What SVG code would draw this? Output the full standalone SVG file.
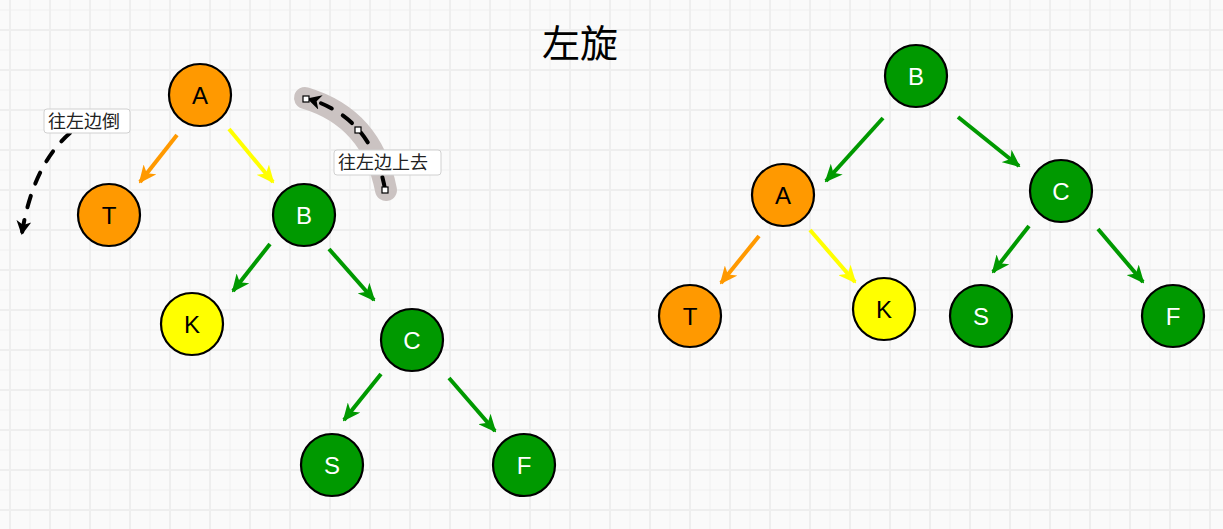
<svg xmlns="http://www.w3.org/2000/svg" width="1223" height="529" viewBox="0 0 1223 529">
<defs>
<pattern id="grid" patternUnits="userSpaceOnUse" x="0" y="0" width="40" height="40">
<rect width="40" height="40" fill="#fafafa"/>
<path d="M30,0V40M0,10H40" stroke="#f0f0f0" stroke-width="1" fill="none"/>
<path d="M10,0V40M0,30H40" stroke="#eeeeee" stroke-width="2" fill="none"/>
</pattern>
<marker id="mG" markerUnits="userSpaceOnUse" markerWidth="18" markerHeight="16" refX="16" refY="8" orient="auto"><path d="M0,0 L18,8 L0,16 L5,8 Z" fill="#009900"/></marker>
<marker id="mO" markerUnits="userSpaceOnUse" markerWidth="18" markerHeight="16" refX="16" refY="8" orient="auto"><path d="M0,0 L18,8 L0,16 L5,8 Z" fill="#ff9900"/></marker>
<marker id="mY" markerUnits="userSpaceOnUse" markerWidth="18" markerHeight="16" refX="16" refY="8" orient="auto"><path d="M0,0 L18,8 L0,16 L5,8 Z" fill="#ffff00"/></marker>
<marker id="mK" markerUnits="userSpaceOnUse" markerWidth="15" markerHeight="15" refX="12" refY="7.5" orient="auto"><path d="M0,0 L14,7.5 L0,15 L4,7.5 Z" fill="#000"/></marker>
</defs>
<style>
.n circle{stroke:#000;stroke-width:2.2}
.g circle{fill:#009900}
.o circle{fill:#ff9900}
.y circle{fill:#ffff00}
.n text{font-family:"Liberation Sans","DejaVu Sans",sans-serif;font-size:24px;text-anchor:middle;dominant-baseline:central}
.g text{fill:#fff}
.o text,.y text{fill:#000}
.e{stroke-width:4;fill:none}
.eg{stroke:#009900;marker-end:url(#mG)}
.eo{stroke:#ff9900;marker-end:url(#mO)}
.ey{stroke:#ffff00;marker-end:url(#mY)}
.lbl rect{fill:#fff;stroke:#d0d0d0;stroke-width:1}
.lbl text{font-family:"Liberation Serif","Noto Sans CJK SC",serif;font-size:18px;fill:#222}
.dash{stroke:#000;stroke-width:4;fill:none;stroke-dasharray:12 13;stroke-linecap:round;marker-end:url(#mK)}
.hd{fill:#fff;stroke:#000;stroke-width:1.2}
</style>
<rect width="1223" height="529" fill="url(#grid)"/>
<text x="580" y="57" font-family="Liberation Serif,'Noto Sans CJK SC',serif" font-size="38" text-anchor="middle" fill="#000">左旋</text>

<g id="annotations">
<path d="M386,190 Q372,118 305,98" stroke="#cbc3c2" stroke-width="22" stroke-linecap="round" fill="none"/>
<path class="dash" d="M385,189 Q372,118 309,99"/>
<rect class="hd" x="303" y="96" width="6" height="6"/>
<rect class="hd" x="355" y="127" width="6" height="6"/>
<rect class="hd" x="382" y="187" width="6" height="6"/>
<path class="dash" d="M70,133 Q33,165 22,233"/>
</g>

<g id="label-fall" class="lbl"><rect x="44" y="109" width="86" height="24" rx="3"/><text x="48" y="128">往左边倒</text></g>
<g id="label-up" class="lbl"><rect x="334" y="150" width="107" height="25" rx="3"/><text x="338" y="169">往左边上去</text></g>

<g id="connectors">
<line class="e eo" x1="177" y1="135" x2="140" y2="182"/>
<line class="e ey" x1="229" y1="129" x2="273" y2="182"/>
<line class="e eg" x1="270" y1="244" x2="233" y2="291"/>
<line class="e eg" x1="329" y1="249" x2="374" y2="300"/>
<line class="e eg" x1="381" y1="374" x2="344" y2="420"/>
<line class="e eg" x1="449" y1="378" x2="495" y2="431"/>
<line class="e eg" x1="883" y1="118" x2="826" y2="181"/>
<line class="e eg" x1="958" y1="117" x2="1019" y2="166"/>
<line class="e eo" x1="759" y1="236" x2="721" y2="283"/>
<line class="e ey" x1="810" y1="230" x2="855" y2="282"/>
<line class="e eg" x1="1029" y1="226" x2="993" y2="272"/>
<line class="e eg" x1="1098" y1="229" x2="1143" y2="282"/>
</g>

<g id="L-A" class="n o"><circle cx="200" cy="95" r="31"/><text x="200" y="95">A</text></g>
<g id="L-T" class="n o"><circle cx="109" cy="215" r="31"/><text x="109" y="215">T</text></g>
<g id="L-B" class="n g"><circle cx="304" cy="215" r="31"/><text x="304" y="215">B</text></g>
<g id="L-K" class="n y"><circle cx="192" cy="324" r="31"/><text x="192" y="324">K</text></g>
<g id="L-C" class="n g"><circle cx="412" cy="340" r="31"/><text x="412" y="340">C</text></g>
<g id="L-S" class="n g"><circle cx="332" cy="465" r="31"/><text x="332" y="465">S</text></g>
<g id="L-F" class="n g"><circle cx="524" cy="465" r="31"/><text x="524" y="465">F</text></g>

<g id="R-B" class="n g"><circle cx="916" cy="76" r="31"/><text x="916" y="76">B</text></g>
<g id="R-A" class="n o"><circle cx="783" cy="195" r="31"/><text x="783" y="195">A</text></g>
<g id="R-C" class="n g"><circle cx="1061" cy="191" r="31"/><text x="1061" y="191">C</text></g>
<g id="R-T" class="n o"><circle cx="690" cy="316" r="31"/><text x="690" y="316">T</text></g>
<g id="R-K" class="n y"><circle cx="884" cy="309" r="31"/><text x="884" y="309">K</text></g>
<g id="R-S" class="n g"><circle cx="981" cy="316" r="31"/><text x="981" y="316">S</text></g>
<g id="R-F" class="n g"><circle cx="1173" cy="316" r="31"/><text x="1173" y="316">F</text></g>
</svg>
